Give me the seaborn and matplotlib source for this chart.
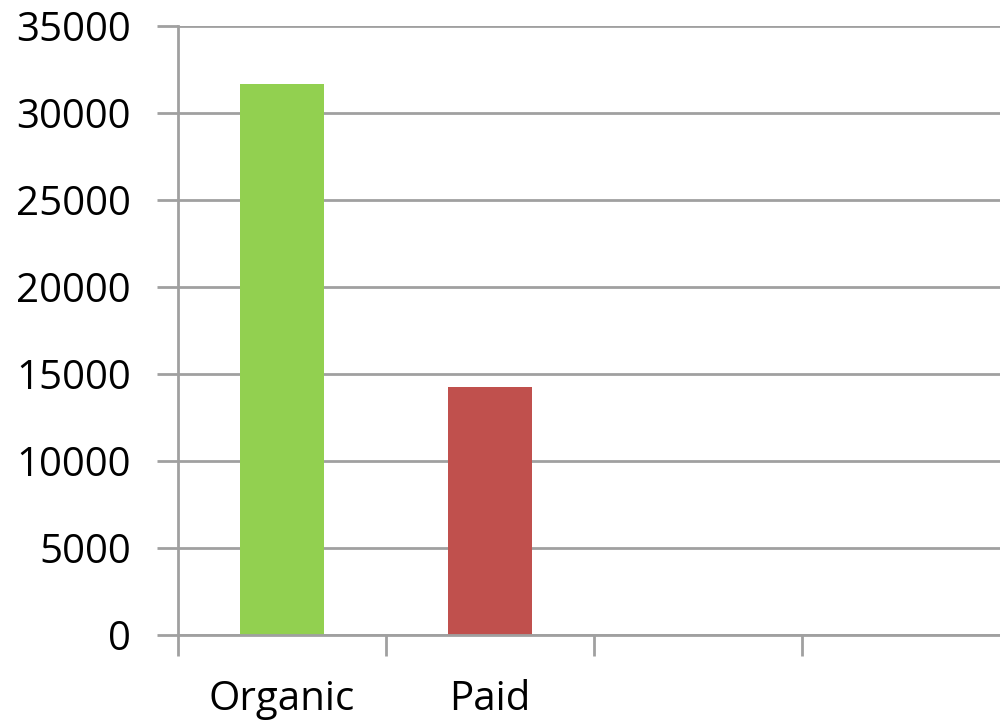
import matplotlib
matplotlib.use("Agg")
import matplotlib.pyplot as plt
import seaborn as sns
import pandas as pd

categories = ["Organic", "Paid"]
slots = ["Organic", "Paid", "slot3", "slot4"]
values = [31680, 14240]
colors = ["#92D050", "#C0504D"]
yticks = [0, 5000, 10000, 15000, 20000, 25000, 30000, 35000]

sns.set_theme(style="white")
plt.rcParams['font.family'] = ['Open Sans', 'DejaVu Sans']

df = pd.DataFrame({"cat": categories, "val": values})

fig = plt.figure(figsize=(10, 7.26), dpi=100)
ax = fig.add_axes([0.178, 0.1253, 0.832, 0.8389])
sns.barplot(data=df, x="cat", y="val", order=slots, hue="cat", palette=colors,
            width=0.4, legend=False, ax=ax, saturation=1, linewidth=0)

ax.set_ylim(0, 35000)
ax.set_xlim(-0.5, 3.5)
ax.set_yticks(yticks)
ax.set_yticklabels([str(v) for v in yticks])
ax.yaxis.grid(True, color="#a0a0a0", linewidth=2)
ax.set_axisbelow(True)

ax.set_xticks([-0.5, 0.5, 1.5, 2.5, 3.5])
ax.set_xticklabels([])
ax.set_xticks([0, 1], minor=True)
ax.set_xticklabels(categories, minor=True)
ax.tick_params(axis="x", which="major", bottom=True, length=15, width=2,
               color="#a0a0a0", direction="out")
ax.tick_params(axis="x", which="minor", bottom=True, length=0, pad=32,
               labelsize=29, labelcolor="black")
ax.tick_params(axis="y", left=True, length=15, width=2, color="#a0a0a0",
               direction="out", pad=19, labelsize=29, labelcolor="black")
ax.set_xlabel("")
ax.set_ylabel("")

for s in ["top", "right"]:
    ax.spines[s].set_visible(False)
for s in ["left", "bottom"]:
    ax.spines[s].set_color("#a0a0a0")
    ax.spines[s].set_linewidth(2)

fig.savefig("out.png", dpi=100)
